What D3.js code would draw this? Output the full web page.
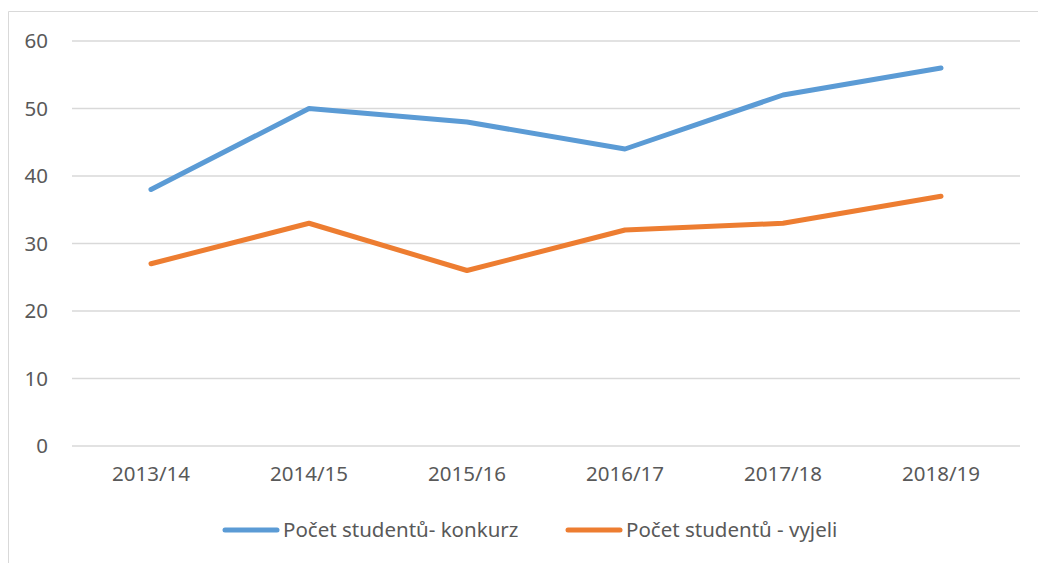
<!DOCTYPE html>
<html>
<head>
<meta charset="utf-8">
<script src="https://cdn.jsdelivr.net/npm/d3@7"></script>
<style>
  body { margin: 0; background: #fff; }
  text { font-family: "Noto Sans", "Open Sans", sans-serif; fill: #595959; }
</style>
</head>
<body>
<div id="chart"></div>
<script>
var years = ["2013/14", "2014/15", "2015/16", "2016/17", "2017/18", "2018/19"];
var konkurz = [38, 50, 48, 44, 52, 56];
var vyjeli = [27, 33, 26, 32, 33, 37];
var seriesNames = ["Počet studentů- konkurz", "Počet studentů - vyjeli"];
var yTicks = [0, 10, 20, 30, 40, 50, 60];
var colors = ["#5b9bd5", "#ed7d31"];

var fontSize = "20.5px";
var svgWidth = 1038, svgHeight = 563;
var margin = { top: 41, right: 18, bottom: 117, left: 72 };
var width = svgWidth - margin.left - margin.right;
var height = svgHeight - margin.top - margin.bottom;

var svg = d3.select("#chart").append("svg")
  .attr("width", svgWidth)
  .attr("height", svgHeight);

// chart border
svg.append("path")
  .attr("d", "M8.5,563 V11.5 H1038")
  .attr("fill", "none")
  .attr("stroke", "#d9d9d9")
  .attr("stroke-width", 1);

var chartGroup = svg.append("g")
  .attr("transform", `translate(${margin.left}, ${margin.top})`);

var x = d3.scaleBand().domain(years).range([0, width]);
var y = d3.scaleLinear().domain([0, 60]).range([height, 0]);

// gridlines
chartGroup.selectAll(".grid")
  .data(yTicks)
  .enter()
  .append("line")
  .attr("x1", 0)
  .attr("x2", width)
  .attr("y1", d => y(d))
  .attr("y2", d => y(d))
  .attr("stroke", "#d9d9d9")
  .attr("stroke-width", 1.3);

// y axis labels
var leftAxis = d3.axisLeft(y).tickValues(yTicks).tickSize(0).tickPadding(24);
chartGroup.append("g").call(leftAxis)
  .attr("font-size", fontSize)
  .attr("font-family", null)
  .call(g => g.select(".domain").remove())
  .selectAll("text")
  .attr("fill", "#595959");

// x axis labels
var bottomAxis = d3.axisBottom(x).tickSize(0).tickPadding(20);
chartGroup.append("g")
  .attr("transform", `translate(0, ${height})`)
  .call(bottomAxis)
  .attr("font-size", fontSize)
  .attr("font-family", null)
  .call(g => g.select(".domain").remove())
  .selectAll("text")
  .attr("fill", "#595959");

var line = d3.line()
  .x((d, i) => x(years[i]) + x.bandwidth() / 2)
  .y(d => y(d));

[konkurz, vyjeli].forEach(function(series, i) {
  chartGroup.append("path")
    .datum(series)
    .attr("d", line)
    .attr("fill", "none")
    .attr("stroke", colors[i])
    .attr("stroke-width", 5)
    .attr("stroke-linecap", "round")
    .attr("stroke-linejoin", "round");
});

// legend
var legendX = [225, 568];
var legend = svg.append("g").attr("font-size", fontSize);
seriesNames.forEach(function(name, i) {
  legend.append("line")
    .attr("x1", legendX[i])
    .attr("x2", legendX[i] + 52)
    .attr("y1", 530)
    .attr("y2", 530)
    .attr("stroke", colors[i])
    .attr("stroke-width", 5)
    .attr("stroke-linecap", "round");
  legend.append("text")
    .attr("x", legendX[i] + 58)
    .attr("y", 537)
    .text(name);
});
</script>
</body>
</html>
